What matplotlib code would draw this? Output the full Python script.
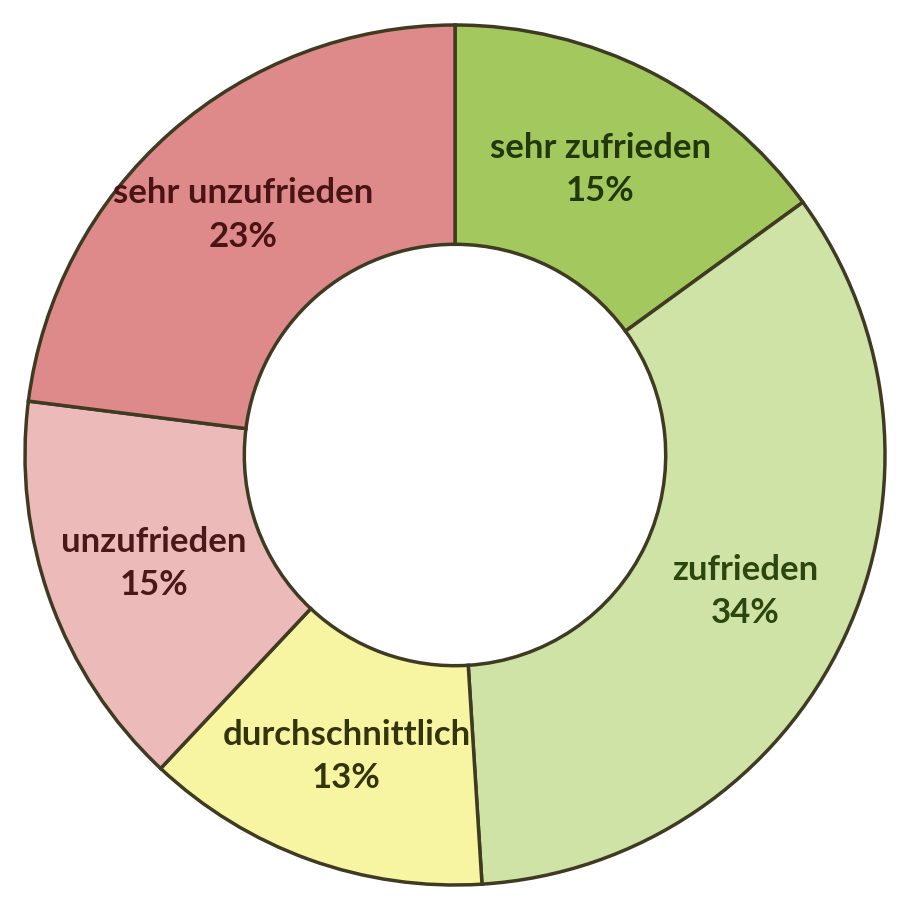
import numpy as np
import matplotlib.pyplot as plt

# Zufriedenheit, im Uhrzeigersinn ab 12 Uhr
labels = ["sehr zufrieden", "zufrieden", "durchschnittlich", "unzufrieden", "sehr unzufrieden"]
shares = [15, 34, 13, 15, 23]
colors = ["#A3C95E", "#CFE3A6", "#F8F5A2", "#EDBABA", "#DE8A8A"]
text_colors = ["#22380a", "#2c4610", "#33330c", "#4a1818", "#4a1414"]

fig = plt.figure(figsize=(9.05, 9.0), dpi=100)
ax = fig.add_axes([25 / 905, 15 / 900, 860 / 905, 860 / 900])

wedges, _ = ax.pie(
    shares,
    colors=colors,
    startangle=90,
    counterclock=False,
    radius=1.0,
    wedgeprops=dict(width=0.51, edgecolor="#3f3a22", linewidth=2.5),
)

# Beschriftung mittig im Ring
mid_r = 1.0 - 0.51 / 2
for w, lab, val, tc in zip(wedges, labels, shares, text_colors):
    ang = np.deg2rad((w.theta1 + w.theta2) / 2)
    x, y = mid_r * np.cos(ang), mid_r * np.sin(ang)
    ax.text(x, y, f"{lab}\n{val}%", ha="center", va="center",
            fontsize=25, fontweight="bold", family="Lato",
            color=tc, linespacing=1.45)

ax.set_xlim(-1, 1)
ax.set_ylim(-1, 1)
ax.axis("off")

fig.savefig("out.png", dpi=100)
